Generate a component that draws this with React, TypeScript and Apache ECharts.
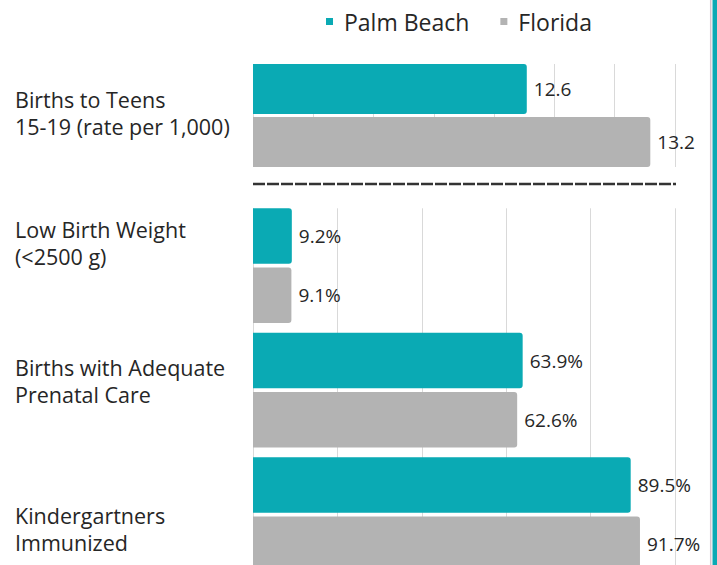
import React, { useEffect, useRef } from "react";
import * as echarts from "echarts";

const seriesNames = ["Palm Beach", "Florida"];
const categoriesTop = ["Births to Teens\n15-19 (rate per 1,000)"];
const palmBeachTop = [12.6];
const floridaTop = [13.2];
const categoriesPct = [
  "Low Birth Weight\n(<2500 g)",
  "Births with Adequate\nPrenatal Care",
  "Kindergartners\nImmunized",
];
const palmBeachPct = [9.2, 63.9, 89.5];
const floridaPct = [9.1, 62.6, 91.7];

const TEAL = "#0AAAB4";
const GREY = "#B3B3B3";
const TEXT = "#262626";
const GRIDLINE = "#d9d9d9";
const FONT = "Open Sans";

const topShift = [-3];
const pctShift = [-23, -9, 14];

export default function App() {
  const ref = useRef<HTMLDivElement>(null);
  useEffect(() => {
    if (!ref.current) return;
    const chart = echarts.init(ref.current, null, { renderer: "svg" });
    const L = 253;
    const W = 422;
    const barLabel = (pct: boolean) => ({
      show: true,
      position: "right",
      distance: 7,
      fontSize: 19,
      fontFamily: FONT,
      color: TEXT,
      formatter: pct ? "{c}%" : "{c}",
    });
    const mkAxisLabel = (shifts: number[]) => ({
      show: true,
      align: "left",
      margin: 238,
      formatter: (value: string, index: number) => {
        const lines = value.split("\n").map((l) => `{t|${l}}`).join("\n");
        const s = shifts[index] || 0;
        const key = `sp${index}`;
        if (s < 0) return `${lines}\n{${key}| }`;
        if (s > 0) return `{${key}| }\n${lines}`;
        return lines;
      },
      rich: Object.assign(
        { t: { fontSize: 21.5, lineHeight: 27, color: TEXT, fontFamily: FONT } },
        ...shifts.map((s, i) => ({
          [`sp${i}`]: { fontSize: 2, lineHeight: Math.max(1, 2 * Math.abs(s)), color: TEXT },
        }))
      ),
    });
    chart.setOption({
      animation: false,
      backgroundColor: "#ffffff",
      textStyle: { fontFamily: FONT },
      legend: {
        data: seriesNames,
        left: 321,
        top: 5,
        icon: "rect",
        itemWidth: 7,
        itemHeight: 7,
        itemGap: 31,
        textStyle: { fontSize: 23, color: TEXT, fontFamily: FONT, padding: [0, 0, 0, 6] },
      },
      grid: [
        { left: L, width: W, top: 64, height: 103 },
        { left: L, width: W, top: 64, height: 103 },
        { left: L, width: W, top: 203.4, height: 373.5 },
        { left: L, width: W, top: 208.3, height: 364 },
      ],
      xAxis: [
        { gridIndex: 0, type: "value", min: 11.27, max: 13.32, show: false },
        {
          gridIndex: 1, type: "value", min: 0, max: 7, interval: 1,
          axisLabel: { show: false }, axisLine: { show: false }, axisTick: { show: false },
          splitLine: { show: true, lineStyle: { color: GRIDLINE, width: 1 } },
        },
        { gridIndex: 2, type: "value", min: 0, max: 100, show: false },
        {
          gridIndex: 3, type: "value", min: 0, max: 100, interval: 20,
          axisLabel: { show: false }, axisLine: { show: false }, axisTick: { show: false },
          splitLine: { show: true, lineStyle: { color: GRIDLINE, width: 1 } },
        },
      ],
      yAxis: [
        {
          gridIndex: 0, type: "category", data: categoriesTop, inverse: true,
          axisLine: { show: false }, axisTick: { show: false },
          axisLabel: mkAxisLabel(topShift),
        },
        { gridIndex: 1, type: "value", show: false },
        {
          gridIndex: 2, type: "category", data: categoriesPct, inverse: true,
          axisLine: { show: false }, axisTick: { show: false },
          axisLabel: mkAxisLabel(pctShift),
        },
        { gridIndex: 3, type: "value", show: false },
      ],
      series: [
        {
          name: seriesNames[0], type: "bar", xAxisIndex: 0, yAxisIndex: 0,
          data: palmBeachTop, barGap: "6%", barCategoryGap: "0%",
          itemStyle: { color: TEAL, borderRadius: [0, 3, 3, 0] },
          label: barLabel(false), z: 3,
        },
        {
          name: seriesNames[1], type: "bar", xAxisIndex: 0, yAxisIndex: 0,
          data: floridaTop, barGap: "6%", barCategoryGap: "0%",
          itemStyle: { color: GREY, borderRadius: [0, 3, 3, 0] },
          label: barLabel(false), z: 3,
        },
        {
          name: seriesNames[0], type: "bar", xAxisIndex: 2, yAxisIndex: 2,
          data: palmBeachPct, barGap: "6.7%", barCategoryGap: "7.9%",
          itemStyle: { color: TEAL, borderRadius: [0, 3, 3, 0] },
          label: barLabel(true), z: 3,
        },
        {
          name: seriesNames[1], type: "bar", xAxisIndex: 2, yAxisIndex: 2,
          data: floridaPct, barGap: "6.7%", barCategoryGap: "7.9%",
          itemStyle: { color: GREY, borderRadius: [0, 3, 3, 0] },
          label: barLabel(true), z: 3,
        },
      ],
      graphic: [
        {
          type: "line",
          shape: { x1: 253, y1: 184, x2: 676, y2: 184 },
          style: { stroke: "#333333", lineWidth: 2.5, lineDash: [12, 2] },
        },
        {
          type: "line",
          shape: { x1: 710.7, y1: 0, x2: 710.7, y2: 620 },
          style: { stroke: "#d6c8cf", lineWidth: 1.5 },
        },
        {
          type: "rect",
          shape: { x: 712.5, y: 0, width: 5, height: 620 },
          style: { fill: TEAL },
        },
      ],
    });
    return () => chart.dispose();
  }, []);
  return (
    <div
      style={{
        position: "fixed", left: 0, top: 0, width: 717, height: 565,
        overflow: "hidden", background: "#fff",
      }}
    >
      <div ref={ref} style={{ width: 717, height: 620 }} />
    </div>
  );
}
